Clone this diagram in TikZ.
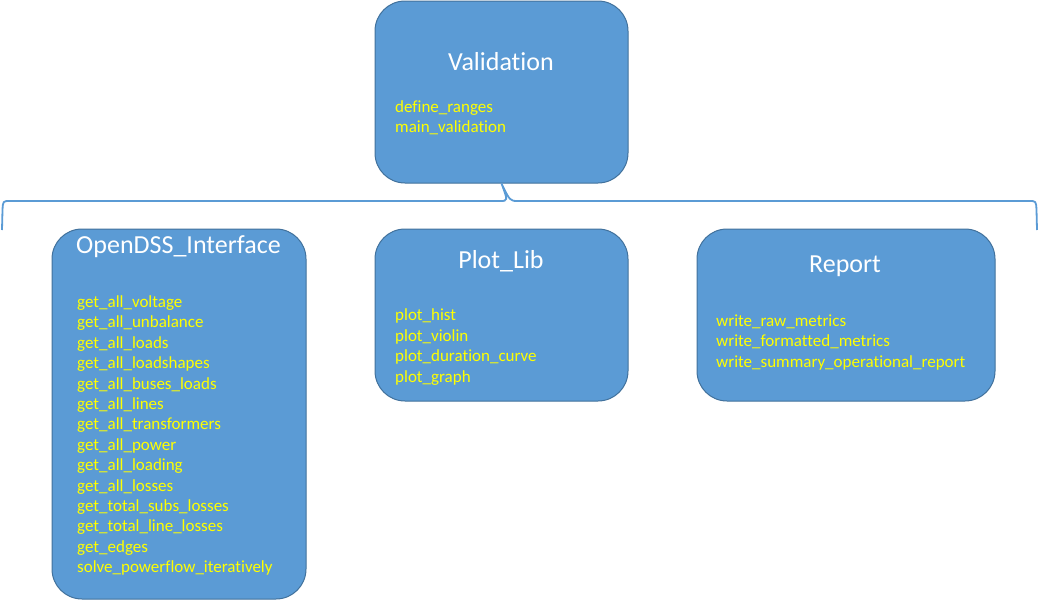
\documentclass[tikz,border=0pt]{standalone}
\usepackage{fontspec}
\setmainfont{Carlito}[Ligatures=NoCommon]
\usepackage{xcolor}
\usetikzlibrary{positioning}

\definecolor{boxfill}{HTML}{5B9BD5}
\definecolor{boxline}{HTML}{41719C}
\definecolor{itemcol}{HTML}{FFFF00}

\begin{document}
\begin{tikzpicture}[
    x=1pt, y=-1pt,
    modbox/.style={
        draw=boxline,
        line width=1pt,
        rounded corners=30pt,
        fill=boxfill,
        inner sep=0pt
    },
    title/.style={
        text=white,
        font=\fontsize{26}{30}\selectfont,
        inner sep=0pt
    },
    items/.style={
        text=itemcol,
        font=\fontsize{17}{20.4}\selectfont,
        align=left,
        anchor=west,
        inner sep=0pt
    },
    brace/.style={draw=boxfill, line width=1.8pt}
]
\useasboundingbox (0,0) rectangle (1041,600);

% boxes
\node[modbox, minimum width=253pt, minimum height=182pt] (valid) at (501.5,92) {};
\node[modbox, minimum width=254pt, minimum height=370pt] (odss) at (179,414) {};
\node[modbox, minimum width=253pt, minimum height=172pt] (plot) at (501.5,315) {};
\node[modbox, minimum width=298pt, minimum height=172pt] (report) at (846,315) {};

% titles
\node[title] (validT) at (501,62) {Validation};
\node[title, anchor=west] (odssT) at (76,247) {OpenDSS\_Interface};
\node[title] (plotT) at (501,261) {Plot\_Lib};
\node[title] (reportT) at (845,266) {Report};

% function lists
\node[items] (validL) at (395,118) {define\_ranges\\main\_validation};
\node[items] (odssL) at (77,435.5) {get\_all\_voltage\\get\_all\_unbalance\\get\_all\_loads\\get\_all\_loadshapes\\get\_all\_buses\_loads\\get\_all\_lines\\get\_all\_transformers\\get\_all\_power\\get\_all\_loading\\get\_all\_losses\\get\_total\_subs\_losses\\get\_total\_line\_losses\\get\_edges\\solve\_powerflow\_iteratively};
\node[items] (plotL) at (395,347) {plot\_hist\\plot\_violin\\plot\_duration\_curve\\plot\_graph};
\node[items] (reportL) at (716,342.5) {write\_raw\_metrics\\write\_formatted\_metrics\\write\_summary\_operational\_report};

% brace under Validation
\coordinate (braceL) at (2,230);
\coordinate (braceR) at (1037,230);
\draw[brace] (braceL) -- (2.5,210) .. controls (3,201) .. (10,201) -- (500,201)
    .. controls (508,201) .. (valid.south)
    .. controls (510,201) .. (518,201) -- (1029,201)
    .. controls (1036,201) .. (1036.5,210) -- (braceR);
\end{tikzpicture}
\end{document}
